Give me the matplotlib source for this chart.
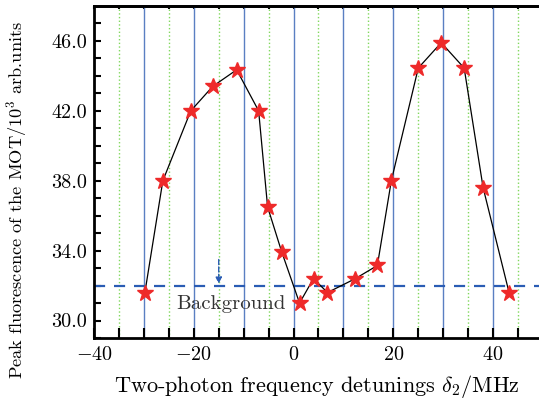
import numpy as np
import matplotlib
matplotlib.use("Agg")
import matplotlib.pyplot as plt

plt.rcParams['font.family'] = ['cmr10', 'DejaVu Serif']
plt.rcParams['mathtext.fontset'] = 'cm'
plt.rcParams['axes.formatter.use_mathtext'] = True

# detuning (MHz) and peak fluorescence (10^3 arb. units)
detuning = [-29.8, -26.2, -20.6, -16.2, -11.4, -7.0, -5.2, -2.4, 1.2, 4.0,
            6.8, 12.4, 16.8, 19.6, 25.0, 29.6, 34.2, 38.0, 43.2]
fluorescence = [31.6, 38.0, 42.0, 43.4, 44.35, 42.0, 36.5, 33.95, 31.0, 32.4,
                31.6, 32.4, 33.15, 38.0, 44.45, 45.9, 44.45, 37.6, 31.6]
background = 31.95
xticks = [-40, -20, 0, 20, 40]
yticks = [30.0, 34.0, 38.0, 42.0, 46.0]

fig = plt.figure(figsize=(5.39, 4.01), dpi=100)
ax = fig.add_axes([94 / 539, 63 / 401, 445 / 539, 332 / 401])

# vertical guide lines
for x in np.arange(-30, 50, 10):
    ax.axvline(x, color='#5a7fc2', lw=1.0, zorder=1)
for x in np.arange(-35, 50, 10):
    ax.axvline(x, color='#80d85c', lw=1.0, ls=':', zorder=1)

ax.axhline(background, color='#2a5cb4', lw=1.6, ls=(0, (5, 4)), zorder=2)
ax.annotate('', xy=(-15, background), xytext=(-15, background + 1.7),
            arrowprops=dict(arrowstyle='-|>', color='#2a5cb4', lw=1.0,
                            ls='--', mutation_scale=9), zorder=3)
ax.text(-12.5, 30.95, 'Background', ha='center', va='center',
        fontsize=15, color='#333333', zorder=3)

ax.plot(detuning, fluorescence, color='black', lw=0.9, marker='*',
        markersize=12, markerfacecolor='#ee2a2a', markeredgecolor='#ee2a2a',
        zorder=4)

ax.set_xlim(-40, 49.2)
ax.set_ylim(29.0, 48.0)
ax.set_xticks(xticks)
ax.set_xticks(np.arange(-40, 50, 5), minor=True)
ax.set_yticks(yticks)
ax.set_yticklabels(['%.1f' % v for v in yticks])
ax.set_yticks(np.arange(29, 48, 1), minor=True)

ax.tick_params(which='both', direction='in', top=False, right=False,
               labelsize=14.5, width=1.5)
ax.tick_params(axis='x', which='both', length=7, pad=6)
ax.tick_params(axis='y', which='both', length=5, pad=5)

# short tick marks along the top edge
top = ax.secondary_xaxis('top')
top.set_xticks(np.arange(-40, 50, 5))
top.tick_params(direction='in', length=2.5, width=1.5, labeltop=False)
top.spines['top'].set_linewidth(2)

for side in ['left', 'bottom', 'top']:
    ax.spines[side].set_linewidth(2)
ax.spines['right'].set_visible(False)

ax.set_xlabel(r'Two-photon frequency detunings $\delta_2$/MHz', fontsize=16,
              labelpad=6.5)
fig.text(17 / 539, 1 - 200 / 401,
         r'Peak fluorescence of the MOT/$10^3$ arb.units',
         rotation=90, ha='center', va='center', fontsize=13.2)

fig.savefig('out.png', dpi=100)
